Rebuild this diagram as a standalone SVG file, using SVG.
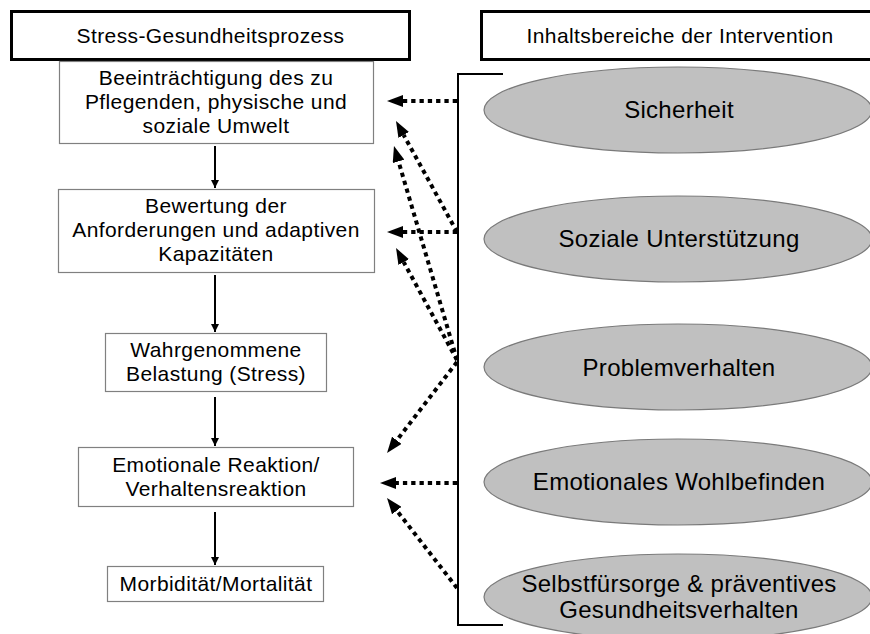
<svg xmlns="http://www.w3.org/2000/svg" width="870" height="634" viewBox="0 0 870 634">
<style>
text{font-family:"Liberation Sans",Arial,sans-serif;fill:#000;text-anchor:middle}
.hdr{font-size:21px;letter-spacing:0.4px}
.bt{font-size:21px;letter-spacing:0.4px}
.et{font-size:24px;letter-spacing:0.3px}
.hbox{fill:#fff;stroke:#000;stroke-width:3}
.box{fill:#fff;stroke:#808080;stroke-width:1.2}
.ell{fill:#c0c0c0;stroke:#7a7a7a;stroke-width:1.2}
.solid{stroke:#000;stroke-width:2;fill:none}
.dot{stroke:#000;stroke-width:4;stroke-dasharray:4.3 4;fill:none}
.brk{stroke:#000;stroke-width:2;fill:none}
</style>
<defs>
<marker id="ah" viewBox="0 0 8 8" refX="8" refY="4" markerWidth="8" markerHeight="8" markerUnits="userSpaceOnUse" orient="auto"><path d="M0,0 L8,4 L0,8 z" fill="#000"/></marker>
<marker id="dh" viewBox="0 0 16 12" refX="0" refY="6" markerWidth="16" markerHeight="12" markerUnits="userSpaceOnUse" orient="auto"><path d="M0,0 L16,6 L0,12 z" fill="#000"/></marker>
</defs>
<rect width="870" height="634" fill="#fff"/>
<g id="header-left"><rect class="hbox" x="11.5" y="11.5" width="398" height="48"/><text class="hdr" x="210.5" y="43">Stress-Gesundheitsprozess</text></g>
<g id="header-right"><rect class="hbox" x="481.5" y="11.5" width="400" height="48"/><text class="hdr" x="680" y="43">Inhaltsbereiche der Intervention</text></g>
<g id="box1"><rect class="box" x="59.5" y="61.5" width="314" height="82"/><text class="bt" x="216" y="85">Beeinträchtigung des zu</text><text class="bt" x="216" y="109">Pflegenden, physische und</text><text class="bt" x="216" y="133">soziale Umwelt</text></g>
<g id="box2"><rect class="box" x="58.5" y="189.5" width="316" height="83"/><text class="bt" x="216" y="213">Bewertung der</text><text class="bt" x="216" y="237">Anforderungen und adaptiven</text><text class="bt" x="216" y="261">Kapazitäten</text></g>
<g id="box3"><rect class="box" x="105.5" y="333.5" width="221" height="58"/><text class="bt" x="216" y="357">Wahrgenommene</text><text class="bt" x="216" y="381">Belastung (Stress)</text></g>
<g id="box4"><rect class="box" x="78.5" y="447.5" width="275" height="59"/><text class="bt" x="216" y="472">Emotionale Reaktion/</text><text class="bt" x="216" y="496">Verhaltensreaktion</text></g>
<g id="box5"><rect class="box" x="107.5" y="566.5" width="216" height="35"/><text class="bt" x="216" y="591">Morbidität/Mortalität</text></g>
<g id="e1"><ellipse class="ell" cx="678" cy="110" rx="194" ry="43"/><text class="et" x="679" y="118">Sicherheit</text></g>
<g id="e2"><ellipse class="ell" cx="678" cy="239" rx="194" ry="43"/><text class="et" x="679" y="247">Soziale Unterstützung</text></g>
<g id="e3"><ellipse class="ell" cx="678" cy="367" rx="194" ry="43"/><text class="et" x="679" y="376">Problemverhalten</text></g>
<g id="e4"><ellipse class="ell" cx="678" cy="482" rx="194" ry="43"/><text class="et" x="679" y="490">Emotionales Wohlbefinden</text></g>
<g id="e5"><ellipse class="ell" cx="678" cy="597" rx="194" ry="43"/><text class="et" x="679" y="592">Selbstfürsorge &amp; präventives</text><text class="et" x="679" y="618">Gesundheitsverhalten</text></g>
<g id="bracket"><path class="brk" d="M503,74 H458 V625 H503"/></g>
<g id="connectors">
<line class="solid" x1="215" y1="146" x2="215" y2="188" marker-end="url(#ah)"/>
<line class="solid" x1="215" y1="275" x2="215" y2="332" marker-end="url(#ah)"/>
<line class="solid" x1="215" y1="397" x2="215" y2="446" marker-end="url(#ah)"/>
<line class="solid" x1="215" y1="512" x2="215" y2="565" marker-end="url(#ah)"/>
<line class="dot" x1="457" y1="101" x2="403" y2="101" marker-end="url(#dh)"/>
<line class="dot" x1="457" y1="232" x2="403" y2="232" marker-end="url(#dh)"/>
<line class="dot" x1="457" y1="232" x2="403.7" y2="135" marker-end="url(#dh)"/>
<line class="dot" x1="457" y1="360" x2="398.5" y2="161.4" marker-end="url(#dh)"/>
<line class="dot" x1="457" y1="360" x2="403.7" y2="262.1" marker-end="url(#dh)"/>
<line class="dot" x1="457" y1="362" x2="396.8" y2="440.3" marker-end="url(#dh)"/>
<line class="dot" x1="457" y1="483" x2="396" y2="483" marker-end="url(#dh)"/>
<line class="dot" x1="457" y1="588" x2="396.8" y2="510.6" marker-end="url(#dh)"/>
</g>
</svg>
